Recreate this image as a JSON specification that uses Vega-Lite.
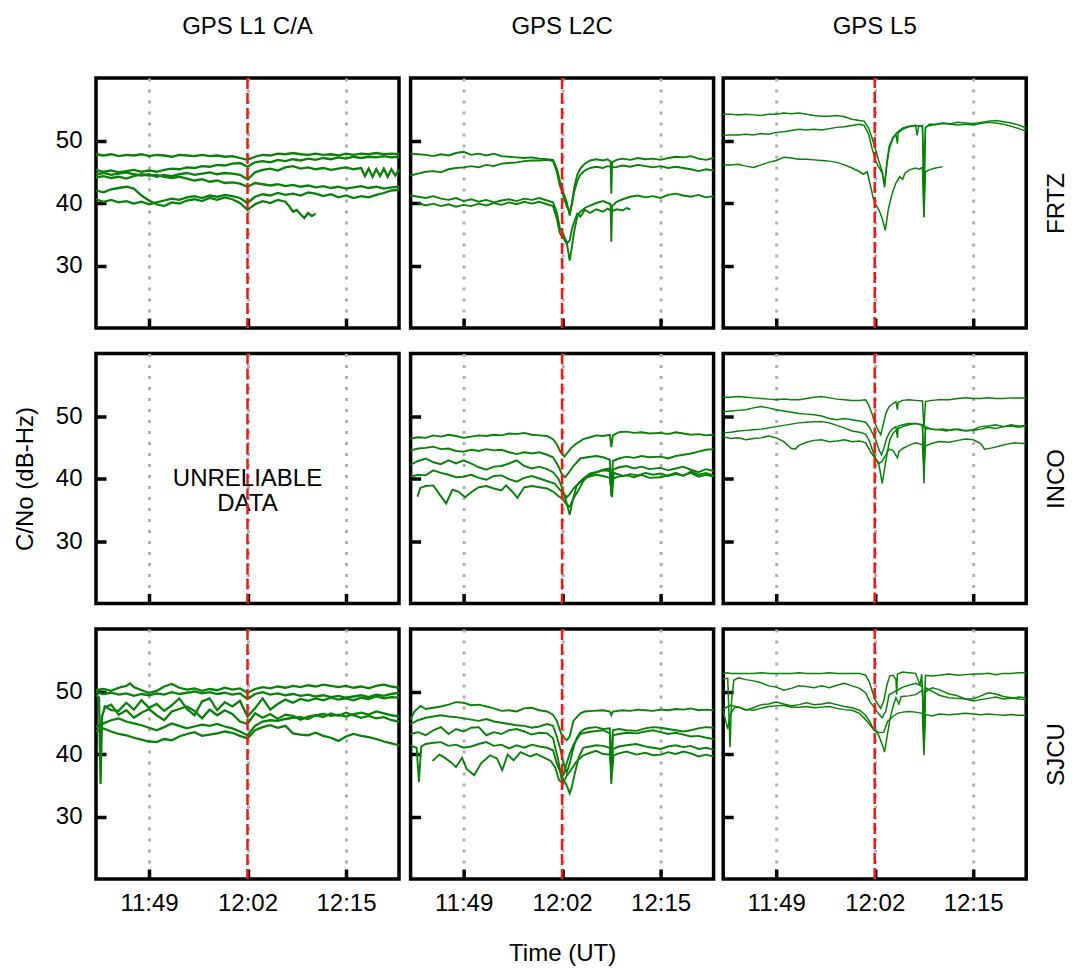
{
"$schema":"https://vega.github.io/schema/vega-lite/v6.json",
"background":"white",
"padding":{"left":12,"top":13,"right":12,"bottom":2},
"config":{
"font":"Liberation Sans",
"view":{"stroke":"#000","strokeWidth":3.5},
"axis":{"labelFontSize":24,"titleFontSize":24,"titleFontWeight":"normal","labelColor":"#000","titleColor":"#000","tickColor":"#000","tickWidth":3.5,"tickSize":-10,"domain":false,"labelPadding":24,"gridColor":"#b0b0b0","gridDash":[3,8],"gridWidth":3,"labelFlush":false,"labelOverlap":false},
"axisX":{"grid":true,"titlePadding":26,"labelPadding":22},
"axisY":{"grid":false,"titlePadding":17.5},
"title":{"fontSize":24,"fontWeight":"normal","color":"#000","offset":38,"baseline":"alphabetic","anchor":"middle","frame":"group"},
"line":{"color":"#078107","strokeWidth":1.8},
"rule":{"color":"#f51414","strokeWidth":2.5,"strokeDash":[11,4]}
},
"columns":3,
"align":"each",
"spacing":{"row":18.5,"column":-1.4},
"datasets":{
"fl1":[
{"sat":1,"t":42,"cn0":47.8},{"sat":1,"t":43,"cn0":47.6},{"sat":1,"t":44,"cn0":47.8},{"sat":1,"t":45,"cn0":47.5},{"sat":1,"t":46,"cn0":47.7},{"sat":1,"t":47,"cn0":47.6},{"sat":1,"t":48,"cn0":47.8},{"sat":1,"t":49,"cn0":47.5},{"sat":1,"t":50,"cn0":47.7},{"sat":1,"t":51,"cn0":47.6},{"sat":1,"t":52,"cn0":47.4},{"sat":1,"t":53,"cn0":47.7},{"sat":1,"t":54,"cn0":47.6},{"sat":1,"t":55,"cn0":47.5},{"sat":1,"t":56,"cn0":47.7},{"sat":1,"t":57,"cn0":47.5},{"sat":1,"t":58,"cn0":47.6},{"sat":1,"t":59,"cn0":47.4},{"sat":1,"t":60,"cn0":47.5},{"sat":1,"t":61,"cn0":47.2},{"sat":1,"t":62,"cn0":46.9},{"sat":1,"t":63,"cn0":47.4},{"sat":1,"t":64,"cn0":47.7},{"sat":1,"t":65,"cn0":47.6},{"sat":1,"t":66,"cn0":47.9},{"sat":1,"t":67,"cn0":47.8},{"sat":1,"t":68,"cn0":48.0},{"sat":1,"t":69,"cn0":47.8},{"sat":1,"t":70,"cn0":47.7},{"sat":1,"t":71,"cn0":47.9},{"sat":1,"t":72,"cn0":47.7},{"sat":1,"t":73,"cn0":47.8},{"sat":1,"t":74,"cn0":47.6},{"sat":1,"t":75,"cn0":47.9},{"sat":1,"t":76,"cn0":47.7},{"sat":1,"t":77,"cn0":47.9},{"sat":1,"t":78,"cn0":47.8},{"sat":1,"t":79,"cn0":48.0},{"sat":1,"t":80,"cn0":47.8},{"sat":1,"t":81,"cn0":47.9},{"sat":1,"t":82,"cn0":47.8},
{"sat":2,"t":42,"cn0":45.3},{"sat":2,"t":43,"cn0":45.0},{"sat":2,"t":44,"cn0":45.2},{"sat":2,"t":45,"cn0":44.9},{"sat":2,"t":46,"cn0":45.1},{"sat":2,"t":47,"cn0":45.3},{"sat":2,"t":48,"cn0":45.0},{"sat":2,"t":49,"cn0":45.2},{"sat":2,"t":50,"cn0":45.0},{"sat":2,"t":51,"cn0":45.3},{"sat":2,"t":52,"cn0":45.5},{"sat":2,"t":53,"cn0":45.4},{"sat":2,"t":54,"cn0":45.7},{"sat":2,"t":55,"cn0":45.6},{"sat":2,"t":56,"cn0":45.9},{"sat":2,"t":57,"cn0":45.8},{"sat":2,"t":58,"cn0":46.1},{"sat":2,"t":59,"cn0":46.0},{"sat":2,"t":60,"cn0":46.3},{"sat":2,"t":61,"cn0":46.4},{"sat":2,"t":62,"cn0":45.8},{"sat":2,"t":63,"cn0":46.5},{"sat":2,"t":64,"cn0":46.7},{"sat":2,"t":65,"cn0":46.5},{"sat":2,"t":66,"cn0":46.9},{"sat":2,"t":67,"cn0":46.7},{"sat":2,"t":68,"cn0":47.0},{"sat":2,"t":69,"cn0":46.8},{"sat":2,"t":70,"cn0":47.1},{"sat":2,"t":71,"cn0":46.9},{"sat":2,"t":72,"cn0":47.2},{"sat":2,"t":73,"cn0":47.0},{"sat":2,"t":74,"cn0":47.3},{"sat":2,"t":75,"cn0":47.1},{"sat":2,"t":76,"cn0":47.4},{"sat":2,"t":77,"cn0":47.2},{"sat":2,"t":78,"cn0":47.4},{"sat":2,"t":79,"cn0":47.3},{"sat":2,"t":80,"cn0":47.5},{"sat":2,"t":81,"cn0":47.3},{"sat":2,"t":82,"cn0":47.4},
{"sat":3,"t":42,"cn0":44.6},{"sat":3,"t":43,"cn0":44.8},{"sat":3,"t":44,"cn0":44.5},{"sat":3,"t":45,"cn0":44.7},{"sat":3,"t":46,"cn0":44.9},{"sat":3,"t":47,"cn0":44.6},{"sat":3,"t":48,"cn0":44.4},{"sat":3,"t":49,"cn0":44.6},{"sat":3,"t":50,"cn0":44.2},{"sat":3,"t":51,"cn0":44.5},{"sat":3,"t":52,"cn0":44.3},{"sat":3,"t":53,"cn0":44.6},{"sat":3,"t":54,"cn0":44.8},{"sat":3,"t":55,"cn0":44.5},{"sat":3,"t":56,"cn0":44.7},{"sat":3,"t":57,"cn0":44.9},{"sat":3,"t":58,"cn0":44.6},{"sat":3,"t":59,"cn0":44.8},{"sat":3,"t":60,"cn0":44.7},{"sat":3,"t":61,"cn0":44.5},{"sat":3,"t":62,"cn0":43.8},{"sat":3,"t":63,"cn0":44.9},{"sat":3,"t":64,"cn0":45.3},{"sat":3,"t":65,"cn0":45.5},{"sat":3,"t":66,"cn0":45.2},{"sat":3,"t":67,"cn0":45.7},{"sat":3,"t":68,"cn0":45.9},{"sat":3,"t":69,"cn0":45.5},{"sat":3,"t":70,"cn0":45.7},{"sat":3,"t":71,"cn0":45.4},{"sat":3,"t":72,"cn0":45.6},{"sat":3,"t":73,"cn0":45.3},{"sat":3,"t":74,"cn0":45.5},{"sat":3,"t":75,"cn0":45.7},{"sat":3,"t":76,"cn0":45.4},{"sat":3,"t":77,"cn0":45.6},{"sat":3,"t":77.5,"cn0":44.3},{"sat":3,"t":78,"cn0":45.5},{"sat":3,"t":78.5,"cn0":44.2},{"sat":3,"t":79,"cn0":45.4},{"sat":3,"t":79.5,"cn0":44.3},{"sat":3,"t":80,"cn0":45.5},{"sat":3,"t":80.5,"cn0":44.2},{"sat":3,"t":81,"cn0":45.4},{"sat":3,"t":81.5,"cn0":44.4},{"sat":3,"t":82,"cn0":45.3},
{"sat":4,"t":42,"cn0":44.1},{"sat":4,"t":43,"cn0":44.3},{"sat":4,"t":44,"cn0":44.0},{"sat":4,"t":45,"cn0":44.2},{"sat":4,"t":46,"cn0":43.9},{"sat":4,"t":47,"cn0":44.3},{"sat":4,"t":48,"cn0":44.6},{"sat":4,"t":49,"cn0":44.4},{"sat":4,"t":50,"cn0":44.5},{"sat":4,"t":51,"cn0":44.2},{"sat":4,"t":52,"cn0":44.0},{"sat":4,"t":53,"cn0":44.2},{"sat":4,"t":54,"cn0":43.9},{"sat":4,"t":55,"cn0":43.6},{"sat":4,"t":56,"cn0":43.8},{"sat":4,"t":57,"cn0":43.4},{"sat":4,"t":58,"cn0":43.6},{"sat":4,"t":59,"cn0":43.2},{"sat":4,"t":60,"cn0":43.3},{"sat":4,"t":61,"cn0":43.1},{"sat":4,"t":62,"cn0":42.6},{"sat":4,"t":63,"cn0":43.2},{"sat":4,"t":64,"cn0":43.0},{"sat":4,"t":65,"cn0":42.8},{"sat":4,"t":66,"cn0":43.0},{"sat":4,"t":67,"cn0":42.7},{"sat":4,"t":68,"cn0":42.9},{"sat":4,"t":69,"cn0":42.6},{"sat":4,"t":70,"cn0":42.8},{"sat":4,"t":71,"cn0":42.5},{"sat":4,"t":72,"cn0":42.7},{"sat":4,"t":73,"cn0":42.4},{"sat":4,"t":74,"cn0":42.6},{"sat":4,"t":75,"cn0":42.3},{"sat":4,"t":76,"cn0":42.5},{"sat":4,"t":77,"cn0":42.7},{"sat":4,"t":78,"cn0":42.4},{"sat":4,"t":79,"cn0":42.6},{"sat":4,"t":80,"cn0":42.3},{"sat":4,"t":81,"cn0":42.5},{"sat":4,"t":82,"cn0":42.6},
{"sat":5,"t":42,"cn0":42.0},{"sat":5,"t":43,"cn0":41.7},{"sat":5,"t":44,"cn0":42.2},{"sat":5,"t":45,"cn0":42.4},{"sat":5,"t":46,"cn0":42.6},{"sat":5,"t":47,"cn0":42.3},{"sat":5,"t":48,"cn0":41.2},{"sat":5,"t":49,"cn0":40.4},{"sat":5,"t":50,"cn0":39.8},{"sat":5,"t":51,"cn0":39.5},{"sat":5,"t":52,"cn0":40.1},{"sat":5,"t":53,"cn0":39.9},{"sat":5,"t":54,"cn0":40.4},{"sat":5,"t":55,"cn0":40.6},{"sat":5,"t":56,"cn0":40.3},{"sat":5,"t":57,"cn0":40.8},{"sat":5,"t":58,"cn0":40.5},{"sat":5,"t":59,"cn0":40.9},{"sat":5,"t":60,"cn0":40.6},{"sat":5,"t":61,"cn0":40.0},{"sat":5,"t":62,"cn0":38.9},{"sat":5,"t":63,"cn0":39.8},{"sat":5,"t":64,"cn0":40.3},{"sat":5,"t":65,"cn0":40.0},{"sat":5,"t":66,"cn0":40.5},{"sat":5,"t":67,"cn0":40.2},{"sat":5,"t":67.5,"cn0":39.5},{"sat":5,"t":68,"cn0":38.6},{"sat":5,"t":68.5,"cn0":38.9},{"sat":5,"t":69,"cn0":38.2},{"sat":5,"t":69.5,"cn0":37.6},{"sat":5,"t":70,"cn0":38.4},{"sat":5,"t":70.5,"cn0":37.9},{"sat":5,"t":71,"cn0":38.3},
{"sat":6,"t":42,"cn0":40.6},{"sat":6,"t":43,"cn0":40.2},{"sat":6,"t":44,"cn0":40.5},{"sat":6,"t":45,"cn0":40.1},{"sat":6,"t":46,"cn0":40.3},{"sat":6,"t":47,"cn0":39.9},{"sat":6,"t":48,"cn0":40.2},{"sat":6,"t":49,"cn0":39.8},{"sat":6,"t":50,"cn0":40.1},{"sat":6,"t":51,"cn0":40.4},{"sat":6,"t":52,"cn0":40.7},{"sat":6,"t":53,"cn0":40.5},{"sat":6,"t":54,"cn0":40.9},{"sat":6,"t":55,"cn0":41.1},{"sat":6,"t":56,"cn0":40.8},{"sat":6,"t":57,"cn0":41.2},{"sat":6,"t":58,"cn0":41.0},{"sat":6,"t":59,"cn0":41.3},{"sat":6,"t":60,"cn0":41.1},{"sat":6,"t":61,"cn0":40.8},{"sat":6,"t":62,"cn0":40.0},{"sat":6,"t":63,"cn0":41.0},{"sat":6,"t":64,"cn0":41.4},{"sat":6,"t":65,"cn0":41.2},{"sat":6,"t":66,"cn0":41.6},{"sat":6,"t":67,"cn0":41.3},{"sat":6,"t":68,"cn0":41.5},{"sat":6,"t":69,"cn0":41.2},{"sat":6,"t":70,"cn0":41.7},{"sat":6,"t":71,"cn0":41.5},{"sat":6,"t":72,"cn0":41.1},{"sat":6,"t":73,"cn0":41.4},{"sat":6,"t":74,"cn0":40.9},{"sat":6,"t":75,"cn0":41.2},{"sat":6,"t":76,"cn0":40.8},{"sat":6,"t":77,"cn0":41.1},{"sat":6,"t":78,"cn0":40.9},{"sat":6,"t":79,"cn0":41.3},{"sat":6,"t":80,"cn0":41.6},{"sat":6,"t":81,"cn0":42.0},{"sat":6,"t":82,"cn0":42.1}
],
"fl2":[
{"sat":1,"t":42,"cn0":47.9},{"sat":1,"t":43,"cn0":47.8},{"sat":1,"t":44,"cn0":47.7},{"sat":1,"t":45,"cn0":47.5},{"sat":1,"t":46,"cn0":47.8},{"sat":1,"t":47,"cn0":47.6},{"sat":1,"t":48,"cn0":48.0},{"sat":1,"t":49,"cn0":48.2},{"sat":1,"t":50,"cn0":47.7},{"sat":1,"t":51,"cn0":47.9},{"sat":1,"t":52,"cn0":47.6},{"sat":1,"t":53,"cn0":47.9},{"sat":1,"t":54,"cn0":47.5},{"sat":1,"t":55,"cn0":47.4},{"sat":1,"t":56,"cn0":47.3},{"sat":1,"t":57,"cn0":47.2},{"sat":1,"t":58,"cn0":47.3},{"sat":1,"t":59,"cn0":47.1},{"sat":1,"t":60,"cn0":47.0},{"sat":1,"t":60.8,"cn0":46.9},{"sat":1,"t":61.3,"cn0":45.5},{"sat":1,"t":61.7,"cn0":43.6},{"sat":1,"t":62.2,"cn0":41.5},{"sat":1,"t":62.6,"cn0":40.2},{"sat":1,"t":63.0,"cn0":38.0},{"sat":1,"t":63.3,"cn0":40.0},{"sat":1,"t":63.6,"cn0":42.5},{"sat":1,"t":64.0,"cn0":44.5},{"sat":1,"t":64.4,"cn0":45.5},{"sat":1,"t":65.0,"cn0":46.3},{"sat":1,"t":65.7,"cn0":46.8},{"sat":1,"t":66.5,"cn0":47.0},{"sat":1,"t":67.4,"cn0":46.8},{"sat":1,"t":68.0,"cn0":47.0},{"sat":1,"t":68.4,"cn0":46.6},{"sat":1,"t":68.5,"cn0":41.5},{"sat":1,"t":68.6,"cn0":46.5},{"sat":1,"t":69.2,"cn0":46.9},{"sat":1,"t":70,"cn0":47.1},{"sat":1,"t":71,"cn0":46.9},{"sat":1,"t":72,"cn0":47.2},{"sat":1,"t":73,"cn0":47.0},{"sat":1,"t":74,"cn0":47.1},{"sat":1,"t":75,"cn0":46.9},{"sat":1,"t":76,"cn0":47.2},{"sat":1,"t":77,"cn0":47.4},{"sat":1,"t":78,"cn0":47.3},{"sat":1,"t":79,"cn0":47.5},{"sat":1,"t":80,"cn0":47.1},{"sat":1,"t":81,"cn0":46.9},{"sat":1,"t":82,"cn0":47.2},
{"sat":2,"t":42,"cn0":44.4},{"sat":2,"t":43,"cn0":44.7},{"sat":2,"t":44,"cn0":45.0},{"sat":2,"t":45,"cn0":45.1},{"sat":2,"t":46,"cn0":44.9},{"sat":2,"t":47,"cn0":45.4},{"sat":2,"t":48,"cn0":45.6},{"sat":2,"t":49,"cn0":45.7},{"sat":2,"t":50,"cn0":45.9},{"sat":2,"t":51,"cn0":45.7},{"sat":2,"t":52,"cn0":46.1},{"sat":2,"t":53,"cn0":45.9},{"sat":2,"t":54,"cn0":46.3},{"sat":2,"t":55,"cn0":46.4},{"sat":2,"t":56,"cn0":46.5},{"sat":2,"t":57,"cn0":46.7},{"sat":2,"t":58,"cn0":46.8},{"sat":2,"t":59,"cn0":46.8},{"sat":2,"t":60,"cn0":46.9},{"sat":2,"t":60.8,"cn0":46.7},{"sat":2,"t":61.3,"cn0":45.0},{"sat":2,"t":61.7,"cn0":42.8},{"sat":2,"t":62.2,"cn0":41.0},{"sat":2,"t":62.6,"cn0":39.5},{"sat":2,"t":63.0,"cn0":38.6},{"sat":2,"t":63.3,"cn0":39.8},{"sat":2,"t":63.6,"cn0":41.8},{"sat":2,"t":64.0,"cn0":43.5},{"sat":2,"t":64.4,"cn0":44.5},{"sat":2,"t":65.0,"cn0":45.2},{"sat":2,"t":65.7,"cn0":45.6},{"sat":2,"t":66.5,"cn0":45.8},{"sat":2,"t":67.4,"cn0":45.6},{"sat":2,"t":68,"cn0":45.9},{"sat":2,"t":69,"cn0":45.7},{"sat":2,"t":70,"cn0":46.0},{"sat":2,"t":71,"cn0":45.8},{"sat":2,"t":72,"cn0":46.1},{"sat":2,"t":73,"cn0":45.9},{"sat":2,"t":74,"cn0":45.7},{"sat":2,"t":75,"cn0":45.9},{"sat":2,"t":76,"cn0":45.6},{"sat":2,"t":77,"cn0":45.8},{"sat":2,"t":78,"cn0":45.6},{"sat":2,"t":79,"cn0":45.4},{"sat":2,"t":80,"cn0":45.1},{"sat":2,"t":81,"cn0":45.4},{"sat":2,"t":82,"cn0":45.2},
{"sat":3,"t":42,"cn0":41.2},{"sat":3,"t":43,"cn0":41.0},{"sat":3,"t":44,"cn0":40.8},{"sat":3,"t":45,"cn0":41.1},{"sat":3,"t":46,"cn0":40.7},{"sat":3,"t":47,"cn0":40.5},{"sat":3,"t":48,"cn0":40.8},{"sat":3,"t":49,"cn0":40.3},{"sat":3,"t":50,"cn0":40.6},{"sat":3,"t":51,"cn0":40.2},{"sat":3,"t":52,"cn0":40.5},{"sat":3,"t":53,"cn0":40.1},{"sat":3,"t":54,"cn0":40.4},{"sat":3,"t":55,"cn0":40.6},{"sat":3,"t":56,"cn0":40.3},{"sat":3,"t":57,"cn0":40.7},{"sat":3,"t":58,"cn0":40.5},{"sat":3,"t":59,"cn0":40.8},{"sat":3,"t":60,"cn0":40.4},{"sat":3,"t":60.8,"cn0":40.1},{"sat":3,"t":61.3,"cn0":38.5},{"sat":3,"t":61.7,"cn0":36.0},{"sat":3,"t":62.2,"cn0":34.8},{"sat":3,"t":62.6,"cn0":33.8},{"sat":3,"t":63.0,"cn0":30.8},{"sat":3,"t":63.3,"cn0":33.0},{"sat":3,"t":63.6,"cn0":35.5},{"sat":3,"t":64.0,"cn0":37.8},{"sat":3,"t":64.4,"cn0":38.6},{"sat":3,"t":65.0,"cn0":39.2},{"sat":3,"t":65.7,"cn0":39.6},{"sat":3,"t":66.5,"cn0":40.0},{"sat":3,"t":67.4,"cn0":40.3},{"sat":3,"t":68.0,"cn0":40.0},{"sat":3,"t":68.4,"cn0":39.8},{"sat":3,"t":68.5,"cn0":33.8},{"sat":3,"t":68.6,"cn0":39.5},{"sat":3,"t":69.2,"cn0":40.2},{"sat":3,"t":70,"cn0":40.6},{"sat":3,"t":71,"cn0":41.0},{"sat":3,"t":72,"cn0":41.2},{"sat":3,"t":73,"cn0":40.9},{"sat":3,"t":74,"cn0":41.1},{"sat":3,"t":75,"cn0":40.8},{"sat":3,"t":76,"cn0":41.3},{"sat":3,"t":77,"cn0":41.5},{"sat":3,"t":78,"cn0":41.2},{"sat":3,"t":79,"cn0":41.0},{"sat":3,"t":80,"cn0":41.3},{"sat":3,"t":81,"cn0":40.9},{"sat":3,"t":82,"cn0":41.1},
{"sat":4,"t":43,"cn0":40.0},{"sat":4,"t":44,"cn0":39.6},{"sat":4,"t":45,"cn0":39.9},{"sat":4,"t":46,"cn0":39.5},{"sat":4,"t":47,"cn0":39.8},{"sat":4,"t":48,"cn0":39.4},{"sat":4,"t":49,"cn0":39.7},{"sat":4,"t":50,"cn0":39.5},{"sat":4,"t":51,"cn0":39.9},{"sat":4,"t":52,"cn0":39.6},{"sat":4,"t":53,"cn0":40.0},{"sat":4,"t":54,"cn0":39.7},{"sat":4,"t":55,"cn0":40.1},{"sat":4,"t":56,"cn0":39.8},{"sat":4,"t":57,"cn0":40.2},{"sat":4,"t":58,"cn0":39.9},{"sat":4,"t":59,"cn0":40.2},{"sat":4,"t":60,"cn0":39.8},{"sat":4,"t":60.8,"cn0":39.5},{"sat":4,"t":61.3,"cn0":37.5},{"sat":4,"t":61.7,"cn0":35.2},{"sat":4,"t":62.2,"cn0":34.3},{"sat":4,"t":62.6,"cn0":33.5},{"sat":4,"t":63.0,"cn0":34.0},{"sat":4,"t":63.3,"cn0":35.8},{"sat":4,"t":63.6,"cn0":37.0},{"sat":4,"t":64.0,"cn0":38.3},{"sat":4,"t":64.4,"cn0":37.8},{"sat":4,"t":65.0,"cn0":38.9},{"sat":4,"t":65.7,"cn0":38.4},{"sat":4,"t":66.5,"cn0":39.0},{"sat":4,"t":67.4,"cn0":38.6},{"sat":4,"t":68.0,"cn0":39.1},{"sat":4,"t":68.6,"cn0":38.7},{"sat":4,"t":69.2,"cn0":39.0},{"sat":4,"t":70.0,"cn0":38.8},{"sat":4,"t":70.5,"cn0":39.2},{"sat":4,"t":71.0,"cn0":39.0}
],
"fl5":[
{"sat":1,"t":42,"cn0":54.2},{"sat":1,"t":43,"cn0":54.2},{"sat":1,"t":44,"cn0":54.1},{"sat":1,"t":45,"cn0":54.2},{"sat":1,"t":46,"cn0":54.1},{"sat":1,"t":47,"cn0":54.0},{"sat":1,"t":48,"cn0":54.2},{"sat":1,"t":49,"cn0":54.2},{"sat":1,"t":50,"cn0":54.4},{"sat":1,"t":51,"cn0":54.3},{"sat":1,"t":52,"cn0":54.4},{"sat":1,"t":53,"cn0":54.2},{"sat":1,"t":54,"cn0":54.0},{"sat":1,"t":55,"cn0":53.9},{"sat":1,"t":56,"cn0":53.9},{"sat":1,"t":57,"cn0":54.0},{"sat":1,"t":58,"cn0":53.8},{"sat":1,"t":59,"cn0":53.4},{"sat":1,"t":60,"cn0":53.2},{"sat":1,"t":60.6,"cn0":53.1},{"sat":1,"t":61.2,"cn0":52.0},{"sat":1,"t":61.7,"cn0":50.2},{"sat":1,"t":62.2,"cn0":48.2},{"sat":1,"t":62.6,"cn0":46.5},{"sat":1,"t":63.0,"cn0":45.0},{"sat":1,"t":63.3,"cn0":42.5},{"sat":1,"t":63.6,"cn0":46.0},{"sat":1,"t":63.9,"cn0":48.5},{"sat":1,"t":64.4,"cn0":50.3},{"sat":1,"t":64.8,"cn0":51.0},{"sat":1,"t":65.0,"cn0":49.5},{"sat":1,"t":65.1,"cn0":51.2},{"sat":1,"t":65.7,"cn0":51.8},{"sat":1,"t":66.5,"cn0":52.2},{"sat":1,"t":67.4,"cn0":52.4},{"sat":1,"t":67.6,"cn0":50.8},{"sat":1,"t":67.8,"cn0":52.3},{"sat":1,"t":68.3,"cn0":52.4},{"sat":1,"t":68.5,"cn0":37.8},{"sat":1,"t":68.7,"cn0":52.0},{"sat":1,"t":69.2,"cn0":52.6},{"sat":1,"t":70,"cn0":52.6},{"sat":1,"t":71,"cn0":52.8},{"sat":1,"t":72,"cn0":52.7},{"sat":1,"t":73,"cn0":52.9},{"sat":1,"t":74,"cn0":52.8},{"sat":1,"t":75,"cn0":52.7},{"sat":1,"t":76,"cn0":52.9},{"sat":1,"t":77,"cn0":53.1},{"sat":1,"t":78,"cn0":53.2},{"sat":1,"t":79,"cn0":53.0},{"sat":1,"t":80,"cn0":52.8},{"sat":1,"t":81,"cn0":52.5},{"sat":1,"t":82,"cn0":52.0},
{"sat":2,"t":42,"cn0":50.8},{"sat":2,"t":43,"cn0":50.9},{"sat":2,"t":44,"cn0":50.9},{"sat":2,"t":45,"cn0":51.0},{"sat":2,"t":46,"cn0":50.9},{"sat":2,"t":47,"cn0":51.1},{"sat":2,"t":48,"cn0":51.0},{"sat":2,"t":49,"cn0":51.3},{"sat":2,"t":50,"cn0":51.4},{"sat":2,"t":51,"cn0":51.6},{"sat":2,"t":52,"cn0":51.8},{"sat":2,"t":53,"cn0":51.7},{"sat":2,"t":54,"cn0":51.8},{"sat":2,"t":55,"cn0":51.7},{"sat":2,"t":56,"cn0":51.9},{"sat":2,"t":57,"cn0":52.1},{"sat":2,"t":58,"cn0":52.2},{"sat":2,"t":59,"cn0":52.4},{"sat":2,"t":60,"cn0":52.6},{"sat":2,"t":60.6,"cn0":52.4},{"sat":2,"t":61.2,"cn0":51.0},{"sat":2,"t":61.7,"cn0":48.5},{"sat":2,"t":62.2,"cn0":46.5},{"sat":2,"t":62.6,"cn0":45.6},{"sat":2,"t":63.0,"cn0":44.8},{"sat":2,"t":63.3,"cn0":43.0},{"sat":2,"t":63.6,"cn0":46.5},{"sat":2,"t":63.9,"cn0":49.0},{"sat":2,"t":64.4,"cn0":50.5},{"sat":2,"t":65.0,"cn0":51.3},{"sat":2,"t":65.7,"cn0":52.0},{"sat":2,"t":66.5,"cn0":52.3},{"sat":2,"t":67.4,"cn0":52.4},{"sat":2,"t":68.3,"cn0":52.3},{"sat":2,"t":68.5,"cn0":45.0},{"sat":2,"t":68.7,"cn0":52.1},{"sat":2,"t":69.2,"cn0":52.4},{"sat":2,"t":70,"cn0":52.5},{"sat":2,"t":71,"cn0":52.7},{"sat":2,"t":72,"cn0":52.6},{"sat":2,"t":73,"cn0":52.5},{"sat":2,"t":74,"cn0":52.6},{"sat":2,"t":75,"cn0":52.5},{"sat":2,"t":76,"cn0":52.7},{"sat":2,"t":77,"cn0":52.9},{"sat":2,"t":78,"cn0":52.8},{"sat":2,"t":79,"cn0":52.6},{"sat":2,"t":80,"cn0":52.3},{"sat":2,"t":81,"cn0":51.9},{"sat":2,"t":82,"cn0":51.5},
{"sat":3,"t":42,"cn0":46.1},{"sat":3,"t":43,"cn0":46.1},{"sat":3,"t":44,"cn0":46.2},{"sat":3,"t":45,"cn0":45.9},{"sat":3,"t":46,"cn0":45.7},{"sat":3,"t":47,"cn0":46.1},{"sat":3,"t":48,"cn0":46.5},{"sat":3,"t":49,"cn0":46.8},{"sat":3,"t":50,"cn0":47.3},{"sat":3,"t":51,"cn0":47.2},{"sat":3,"t":52,"cn0":47.0},{"sat":3,"t":53,"cn0":47.0},{"sat":3,"t":54,"cn0":46.9},{"sat":3,"t":55,"cn0":46.8},{"sat":3,"t":56,"cn0":46.7},{"sat":3,"t":57,"cn0":46.5},{"sat":3,"t":58,"cn0":46.1},{"sat":3,"t":59,"cn0":45.6},{"sat":3,"t":60,"cn0":45.0},{"sat":3,"t":60.5,"cn0":44.6},{"sat":3,"t":61.0,"cn0":45.0},{"sat":3,"t":61.4,"cn0":43.0},{"sat":3,"t":61.8,"cn0":40.8},{"sat":3,"t":62.2,"cn0":39.6},{"sat":3,"t":62.6,"cn0":38.8},{"sat":3,"t":63.0,"cn0":37.5},{"sat":3,"t":63.4,"cn0":35.6},{"sat":3,"t":63.8,"cn0":39.0},{"sat":3,"t":64.3,"cn0":41.5},{"sat":3,"t":64.8,"cn0":43.2},{"sat":3,"t":65.3,"cn0":44.2},{"sat":3,"t":65.7,"cn0":43.8},{"sat":3,"t":66.0,"cn0":44.8},{"sat":3,"t":66.6,"cn0":45.3},{"sat":3,"t":67.4,"cn0":45.6},{"sat":3,"t":67.9,"cn0":45.4},{"sat":3,"t":68.3,"cn0":45.7},{"sat":3,"t":68.5,"cn0":37.7},{"sat":3,"t":68.7,"cn0":45.0},{"sat":3,"t":69.2,"cn0":45.3},{"sat":3,"t":70.0,"cn0":45.6},{"sat":3,"t":70.5,"cn0":45.7},{"sat":3,"t":70.9,"cn0":45.8}
],
"il2":[
{"sat":1,"t":42,"cn0":46.4},{"sat":1,"t":43,"cn0":46.6},{"sat":1,"t":44,"cn0":46.5},{"sat":1,"t":45,"cn0":46.9},{"sat":1,"t":46,"cn0":46.7},{"sat":1,"t":47,"cn0":47.0},{"sat":1,"t":48,"cn0":46.8},{"sat":1,"t":49,"cn0":46.5},{"sat":1,"t":50,"cn0":46.7},{"sat":1,"t":51,"cn0":46.9},{"sat":1,"t":52,"cn0":46.8},{"sat":1,"t":53,"cn0":47.0},{"sat":1,"t":54,"cn0":46.9},{"sat":1,"t":55,"cn0":47.2},{"sat":1,"t":56,"cn0":47.1},{"sat":1,"t":57,"cn0":47.3},{"sat":1,"t":58,"cn0":47.0},{"sat":1,"t":59,"cn0":46.9},{"sat":1,"t":60,"cn0":46.8},{"sat":1,"t":60.8,"cn0":46.3},{"sat":1,"t":61.3,"cn0":45.5},{"sat":1,"t":61.8,"cn0":44.2},{"sat":1,"t":62.3,"cn0":43.5},{"sat":1,"t":62.7,"cn0":44.1},{"sat":1,"t":63.2,"cn0":44.9},{"sat":1,"t":63.9,"cn0":45.6},{"sat":1,"t":64.8,"cn0":46.3},{"sat":1,"t":65.7,"cn0":46.6},{"sat":1,"t":66.5,"cn0":46.9},{"sat":1,"t":67.4,"cn0":46.8},{"sat":1,"t":68.3,"cn0":47.0},{"sat":1,"t":68.5,"cn0":45.0},{"sat":1,"t":68.7,"cn0":46.9},{"sat":1,"t":69.5,"cn0":47.4},{"sat":1,"t":70.5,"cn0":47.5},{"sat":1,"t":71.5,"cn0":47.3},{"sat":1,"t":72.5,"cn0":47.4},{"sat":1,"t":73.5,"cn0":47.2},{"sat":1,"t":75,"cn0":47.3},{"sat":1,"t":76,"cn0":47.1},{"sat":1,"t":77,"cn0":47.4},{"sat":1,"t":78,"cn0":47.2},{"sat":1,"t":79,"cn0":47.0},{"sat":1,"t":80,"cn0":47.1},{"sat":1,"t":81,"cn0":46.9},{"sat":1,"t":82,"cn0":47.0},
{"sat":2,"t":42,"cn0":44.5},{"sat":2,"t":43,"cn0":44.8},{"sat":2,"t":44,"cn0":44.9},{"sat":2,"t":45,"cn0":45.1},{"sat":2,"t":46,"cn0":44.7},{"sat":2,"t":47,"cn0":44.8},{"sat":2,"t":48,"cn0":44.4},{"sat":2,"t":49,"cn0":44.3},{"sat":2,"t":50,"cn0":44.6},{"sat":2,"t":51,"cn0":44.4},{"sat":2,"t":52,"cn0":44.7},{"sat":2,"t":53,"cn0":44.5},{"sat":2,"t":54,"cn0":44.6},{"sat":2,"t":55,"cn0":44.2},{"sat":2,"t":56,"cn0":43.9},{"sat":2,"t":57,"cn0":44.2},{"sat":2,"t":58,"cn0":44.0},{"sat":2,"t":59,"cn0":44.2},{"sat":2,"t":60,"cn0":43.8},{"sat":2,"t":60.8,"cn0":43.4},{"sat":2,"t":61.5,"cn0":42.0},{"sat":2,"t":62.0,"cn0":40.6},{"sat":2,"t":62.4,"cn0":40.2},{"sat":2,"t":62.8,"cn0":40.8},{"sat":2,"t":63.5,"cn0":42.0},{"sat":2,"t":64.4,"cn0":43.2},{"sat":2,"t":65.3,"cn0":43.4},{"sat":2,"t":66.5,"cn0":43.6},{"sat":2,"t":67.4,"cn0":43.4},{"sat":2,"t":68.3,"cn0":43.0},{"sat":2,"t":68.5,"cn0":37.2},{"sat":2,"t":68.7,"cn0":42.8},{"sat":2,"t":69.5,"cn0":43.2},{"sat":2,"t":70.5,"cn0":43.5},{"sat":2,"t":71.5,"cn0":43.3},{"sat":2,"t":72.5,"cn0":43.6},{"sat":2,"t":73.5,"cn0":43.4},{"sat":2,"t":75,"cn0":43.5},{"sat":2,"t":76,"cn0":43.2},{"sat":2,"t":77,"cn0":43.6},{"sat":2,"t":78,"cn0":43.8},{"sat":2,"t":79,"cn0":44.0},{"sat":2,"t":80,"cn0":44.3},{"sat":2,"t":81,"cn0":44.6},{"sat":2,"t":82,"cn0":44.7},
{"sat":3,"t":42,"cn0":42.2},{"sat":3,"t":43,"cn0":42.8},{"sat":3,"t":44,"cn0":43.2},{"sat":3,"t":45,"cn0":42.6},{"sat":3,"t":46,"cn0":42.3},{"sat":3,"t":47,"cn0":42.9},{"sat":3,"t":48,"cn0":42.4},{"sat":3,"t":49,"cn0":42.9},{"sat":3,"t":50,"cn0":42.4},{"sat":3,"t":51,"cn0":41.8},{"sat":3,"t":52,"cn0":41.4},{"sat":3,"t":53,"cn0":41.9},{"sat":3,"t":54,"cn0":42.0},{"sat":3,"t":55,"cn0":42.4},{"sat":3,"t":56,"cn0":42.9},{"sat":3,"t":57,"cn0":42.0},{"sat":3,"t":58,"cn0":41.6},{"sat":3,"t":59,"cn0":41.9},{"sat":3,"t":60,"cn0":41.5},{"sat":3,"t":60.8,"cn0":41.0},{"sat":3,"t":61.5,"cn0":40.0},{"sat":3,"t":62.0,"cn0":38.5},{"sat":3,"t":62.5,"cn0":36.5},{"sat":3,"t":63.0,"cn0":34.2},{"sat":3,"t":63.4,"cn0":36.5},{"sat":3,"t":63.9,"cn0":38.8},{"sat":3,"t":64.8,"cn0":40.0},{"sat":3,"t":65.7,"cn0":40.8},{"sat":3,"t":66.5,"cn0":41.0},{"sat":3,"t":67.4,"cn0":41.3},{"sat":3,"t":68.3,"cn0":41.2},{"sat":3,"t":68.6,"cn0":37.0},{"sat":3,"t":68.8,"cn0":40.9},{"sat":3,"t":70.1,"cn0":40.4},{"sat":3,"t":71,"cn0":40.7},{"sat":3,"t":72,"cn0":40.5},{"sat":3,"t":73,"cn0":40.9},{"sat":3,"t":74,"cn0":40.6},{"sat":3,"t":75,"cn0":40.8},{"sat":3,"t":76,"cn0":40.4},{"sat":3,"t":77,"cn0":40.7},{"sat":3,"t":78,"cn0":40.5},{"sat":3,"t":79,"cn0":40.9},{"sat":3,"t":80,"cn0":40.3},{"sat":3,"t":81,"cn0":40.6},{"sat":3,"t":82,"cn0":40.3},
{"sat":4,"t":42,"cn0":40.3},{"sat":4,"t":43,"cn0":40.6},{"sat":4,"t":44,"cn0":40.5},{"sat":4,"t":45,"cn0":41.3},{"sat":4,"t":46,"cn0":40.9},{"sat":4,"t":47,"cn0":40.6},{"sat":4,"t":48,"cn0":40.2},{"sat":4,"t":49,"cn0":40.3},{"sat":4,"t":50,"cn0":40.6},{"sat":4,"t":51,"cn0":40.1},{"sat":4,"t":52,"cn0":39.8},{"sat":4,"t":53,"cn0":40.4},{"sat":4,"t":54,"cn0":40.5},{"sat":4,"t":55,"cn0":39.9},{"sat":4,"t":56,"cn0":39.5},{"sat":4,"t":57,"cn0":40.1},{"sat":4,"t":58,"cn0":40.4},{"sat":4,"t":59,"cn0":40.0},{"sat":4,"t":60,"cn0":39.6},{"sat":4,"t":61,"cn0":39.2},{"sat":4,"t":61.7,"cn0":38.2},{"sat":4,"t":62.2,"cn0":37.6},{"sat":4,"t":62.6,"cn0":37.0},{"sat":4,"t":63.0,"cn0":37.5},{"sat":4,"t":63.5,"cn0":38.4},{"sat":4,"t":64.4,"cn0":39.5},{"sat":4,"t":65.3,"cn0":40.2},{"sat":4,"t":66.5,"cn0":40.6},{"sat":4,"t":67.4,"cn0":40.4},{"sat":4,"t":68.3,"cn0":40.1},{"sat":4,"t":68.5,"cn0":38.0},{"sat":4,"t":68.7,"cn0":40.0},{"sat":4,"t":69.5,"cn0":40.3},{"sat":4,"t":70.5,"cn0":40.5},{"sat":4,"t":71.5,"cn0":40.2},{"sat":4,"t":72.5,"cn0":40.6},{"sat":4,"t":73.5,"cn0":40.1},{"sat":4,"t":75,"cn0":40.2},{"sat":4,"t":76,"cn0":40.5},{"sat":4,"t":77,"cn0":40.9},{"sat":4,"t":78,"cn0":40.4},{"sat":4,"t":79,"cn0":41.1},{"sat":4,"t":80,"cn0":40.6},{"sat":4,"t":81,"cn0":40.9},{"sat":4,"t":82,"cn0":40.5},
{"sat":5,"t":42.9,"cn0":37.1},{"sat":5,"t":43.3,"cn0":38.5},{"sat":5,"t":44,"cn0":38.8},{"sat":5,"t":45,"cn0":38.9},{"sat":5,"t":45.8,"cn0":37.5},{"sat":5,"t":46.7,"cn0":36.0},{"sat":5,"t":47.5,"cn0":38.2},{"sat":5,"t":48.3,"cn0":37.9},{"sat":5,"t":49.2,"cn0":37.0},{"sat":5,"t":50,"cn0":37.8},{"sat":5,"t":51,"cn0":38.6},{"sat":5,"t":52,"cn0":38.8},{"sat":5,"t":53,"cn0":38.4},{"sat":5,"t":54,"cn0":38.1},{"sat":5,"t":54.6,"cn0":38.9},{"sat":5,"t":55.5,"cn0":37.8},{"sat":5,"t":56.1,"cn0":36.9},{"sat":5,"t":57,"cn0":38.6},{"sat":5,"t":58,"cn0":38.8},{"sat":5,"t":59,"cn0":38.6},{"sat":5,"t":60,"cn0":38.4},{"sat":5,"t":60.8,"cn0":37.9},{"sat":5,"t":61.5,"cn0":37.2},{"sat":5,"t":62,"cn0":36.8},{"sat":5,"t":62.5,"cn0":36.0},{"sat":5,"t":63,"cn0":35.5},{"sat":5,"t":63.5,"cn0":36.8},{"sat":5,"t":64.2,"cn0":38.2},{"sat":5,"t":64.8,"cn0":39.6},{"sat":5,"t":65.5,"cn0":40.5},{"sat":5,"t":66.5,"cn0":41.0},{"sat":5,"t":67.4,"cn0":41.4},{"sat":5,"t":68.3,"cn0":41.6},{"sat":5,"t":68.5,"cn0":37.5},{"sat":5,"t":68.7,"cn0":41.4},{"sat":5,"t":69.5,"cn0":41.8},{"sat":5,"t":70.5,"cn0":42.0},{"sat":5,"t":71.5,"cn0":41.6},{"sat":5,"t":72.5,"cn0":41.9},{"sat":5,"t":73.5,"cn0":41.5},{"sat":5,"t":75,"cn0":41.7},{"sat":5,"t":76,"cn0":41.3},{"sat":5,"t":77,"cn0":41.6},{"sat":5,"t":78,"cn0":41.9},{"sat":5,"t":79,"cn0":41.4},{"sat":5,"t":80,"cn0":41.0},{"sat":5,"t":81,"cn0":41.5},{"sat":5,"t":82,"cn0":41.2}
],
"il5":[
{"sat":1,"t":42,"cn0":53.0},{"sat":1,"t":43,"cn0":53.0},{"sat":1,"t":44,"cn0":53.1},{"sat":1,"t":45,"cn0":53.0},{"sat":1,"t":46,"cn0":52.9},{"sat":1,"t":47,"cn0":52.8},{"sat":1,"t":48,"cn0":52.7},{"sat":1,"t":49,"cn0":52.6},{"sat":1,"t":50,"cn0":52.7},{"sat":1,"t":51,"cn0":52.6},{"sat":1,"t":52,"cn0":52.6},{"sat":1,"t":53,"cn0":52.8},{"sat":1,"t":54,"cn0":53.0},{"sat":1,"t":55,"cn0":53.1},{"sat":1,"t":56,"cn0":52.9},{"sat":1,"t":57,"cn0":52.7},{"sat":1,"t":58,"cn0":52.6},{"sat":1,"t":59,"cn0":52.5},{"sat":1,"t":60,"cn0":52.5},{"sat":1,"t":60.8,"cn0":52.6},{"sat":1,"t":61.2,"cn0":51.8},{"sat":1,"t":61.6,"cn0":50.5},{"sat":1,"t":62.0,"cn0":49.0},{"sat":1,"t":62.4,"cn0":47.8},{"sat":1,"t":62.8,"cn0":47.0},{"sat":1,"t":63.1,"cn0":48.5},{"sat":1,"t":63.5,"cn0":50.5},{"sat":1,"t":63.9,"cn0":51.5},{"sat":1,"t":64.4,"cn0":52.0},{"sat":1,"t":64.8,"cn0":52.3},{"sat":1,"t":65.0,"cn0":51.0},{"sat":1,"t":65.1,"cn0":52.2},{"sat":1,"t":65.7,"cn0":52.5},{"sat":1,"t":66.5,"cn0":52.6},{"sat":1,"t":67.4,"cn0":52.5},{"sat":1,"t":68.3,"cn0":52.4},{"sat":1,"t":68.5,"cn0":48.0},{"sat":1,"t":68.7,"cn0":52.3},{"sat":1,"t":69.5,"cn0":52.5},{"sat":1,"t":70.5,"cn0":52.6},{"sat":1,"t":71.8,"cn0":52.6},{"sat":1,"t":73,"cn0":52.8},{"sat":1,"t":74,"cn0":52.9},{"sat":1,"t":75,"cn0":52.8},{"sat":1,"t":76,"cn0":52.8},{"sat":1,"t":77,"cn0":52.9},{"sat":1,"t":78,"cn0":52.8},{"sat":1,"t":79,"cn0":52.8},{"sat":1,"t":80,"cn0":52.9},{"sat":1,"t":81,"cn0":52.9},{"sat":1,"t":82,"cn0":52.9},
{"sat":2,"t":42,"cn0":50.7},{"sat":2,"t":43,"cn0":50.8},{"sat":2,"t":44,"cn0":50.9},{"sat":2,"t":45,"cn0":51.0},{"sat":2,"t":46,"cn0":51.3},{"sat":2,"t":47,"cn0":51.5},{"sat":2,"t":48,"cn0":51.3},{"sat":2,"t":49,"cn0":51.0},{"sat":2,"t":50,"cn0":50.8},{"sat":2,"t":51,"cn0":50.6},{"sat":2,"t":52,"cn0":50.4},{"sat":2,"t":53,"cn0":50.3},{"sat":2,"t":54,"cn0":50.2},{"sat":2,"t":55,"cn0":50.0},{"sat":2,"t":56,"cn0":49.6},{"sat":2,"t":57,"cn0":49.4},{"sat":2,"t":58,"cn0":49.6},{"sat":2,"t":59,"cn0":49.4},{"sat":2,"t":60,"cn0":49.2},{"sat":2,"t":60.8,"cn0":49.0},{"sat":2,"t":61.3,"cn0":48.2},{"sat":2,"t":61.8,"cn0":47.0},{"sat":2,"t":62.2,"cn0":46.0},{"sat":2,"t":62.6,"cn0":44.5},{"sat":2,"t":62.9,"cn0":43.8},{"sat":2,"t":63.2,"cn0":44.8},{"sat":2,"t":63.6,"cn0":46.5},{"sat":2,"t":64.0,"cn0":47.5},{"sat":2,"t":64.4,"cn0":48.0},{"sat":2,"t":64.8,"cn0":48.3},{"sat":2,"t":65.0,"cn0":46.5},{"sat":2,"t":65.1,"cn0":48.4},{"sat":2,"t":65.7,"cn0":48.6},{"sat":2,"t":66.5,"cn0":48.8},{"sat":2,"t":67.4,"cn0":48.8},{"sat":2,"t":68.3,"cn0":48.6},{"sat":2,"t":68.5,"cn0":41.5},{"sat":2,"t":68.7,"cn0":48.3},{"sat":2,"t":69.5,"cn0":47.9},{"sat":2,"t":70.1,"cn0":47.8},{"sat":2,"t":71,"cn0":47.9},{"sat":2,"t":72,"cn0":47.7},{"sat":2,"t":73,"cn0":47.9},{"sat":2,"t":74,"cn0":47.6},{"sat":2,"t":75,"cn0":47.8},{"sat":2,"t":76,"cn0":48.3},{"sat":2,"t":77,"cn0":48.4},{"sat":2,"t":78,"cn0":48.6},{"sat":2,"t":79,"cn0":48.3},{"sat":2,"t":80,"cn0":48.6},{"sat":2,"t":81,"cn0":48.4},{"sat":2,"t":82,"cn0":48.5},
{"sat":3,"t":42,"cn0":47.3},{"sat":3,"t":43,"cn0":47.4},{"sat":3,"t":44,"cn0":47.6},{"sat":3,"t":45,"cn0":47.7},{"sat":3,"t":46,"cn0":47.8},{"sat":3,"t":47,"cn0":47.9},{"sat":3,"t":48,"cn0":48.1},{"sat":3,"t":49,"cn0":48.3},{"sat":3,"t":50,"cn0":48.5},{"sat":3,"t":51,"cn0":48.7},{"sat":3,"t":52,"cn0":48.9},{"sat":3,"t":53,"cn0":49.0},{"sat":3,"t":54,"cn0":49.1},{"sat":3,"t":55,"cn0":49.1},{"sat":3,"t":56,"cn0":48.9},{"sat":3,"t":57,"cn0":48.5},{"sat":3,"t":58,"cn0":48.1},{"sat":3,"t":59,"cn0":47.6},{"sat":3,"t":60,"cn0":47.4},{"sat":3,"t":60.8,"cn0":47.1},{"sat":3,"t":61.3,"cn0":46.0},{"sat":3,"t":61.8,"cn0":44.2},{"sat":3,"t":62.2,"cn0":43.0},{"sat":3,"t":62.6,"cn0":42.0},{"sat":3,"t":63.0,"cn0":39.2},{"sat":3,"t":63.3,"cn0":41.5},{"sat":3,"t":63.7,"cn0":44.5},{"sat":3,"t":64.0,"cn0":46.2},{"sat":3,"t":64.4,"cn0":47.2},{"sat":3,"t":65.0,"cn0":47.9},{"sat":3,"t":65.7,"cn0":48.3},{"sat":3,"t":66.5,"cn0":48.6},{"sat":3,"t":67.4,"cn0":48.8},{"sat":3,"t":68.3,"cn0":48.5},{"sat":3,"t":68.5,"cn0":39.2},{"sat":3,"t":68.7,"cn0":48.0},{"sat":3,"t":69.5,"cn0":47.9},{"sat":3,"t":70.5,"cn0":47.8},{"sat":3,"t":71.5,"cn0":47.6},{"sat":3,"t":72.5,"cn0":47.9},{"sat":3,"t":73.5,"cn0":47.7},{"sat":3,"t":75,"cn0":47.7},{"sat":3,"t":76,"cn0":47.9},{"sat":3,"t":77,"cn0":48.2},{"sat":3,"t":78,"cn0":48.0},{"sat":3,"t":79,"cn0":48.3},{"sat":3,"t":80,"cn0":48.4},{"sat":3,"t":81,"cn0":48.2},{"sat":3,"t":82,"cn0":48.4},
{"sat":4,"t":42,"cn0":46.7},{"sat":4,"t":43,"cn0":46.4},{"sat":4,"t":44,"cn0":46.5},{"sat":4,"t":45,"cn0":46.2},{"sat":4,"t":46,"cn0":46.4},{"sat":4,"t":47,"cn0":46.5},{"sat":4,"t":48,"cn0":46.8},{"sat":4,"t":49,"cn0":46.5},{"sat":4,"t":50,"cn0":45.9},{"sat":4,"t":51,"cn0":44.8},{"sat":4,"t":51.5,"cn0":44.7},{"sat":4,"t":52,"cn0":45.3},{"sat":4,"t":53,"cn0":45.8},{"sat":4,"t":54,"cn0":46.1},{"sat":4,"t":55,"cn0":46.2},{"sat":4,"t":56,"cn0":45.9},{"sat":4,"t":57,"cn0":46.0},{"sat":4,"t":58,"cn0":46.2},{"sat":4,"t":59,"cn0":45.9},{"sat":4,"t":60,"cn0":46.0},{"sat":4,"t":60.8,"cn0":45.7},{"sat":4,"t":61.5,"cn0":44.2},{"sat":4,"t":62.2,"cn0":43.0},{"sat":4,"t":62.6,"cn0":42.4},{"sat":4,"t":63.0,"cn0":42.8},{"sat":4,"t":63.5,"cn0":43.8},{"sat":4,"t":63.9,"cn0":44.7},{"sat":4,"t":64.4,"cn0":44.5},{"sat":4,"t":65.0,"cn0":43.3},{"sat":4,"t":65.2,"cn0":44.3},{"sat":4,"t":65.7,"cn0":44.8},{"sat":4,"t":66.5,"cn0":45.3},{"sat":4,"t":67.4,"cn0":45.7},{"sat":4,"t":68.3,"cn0":45.4},{"sat":4,"t":68.5,"cn0":42.0},{"sat":4,"t":68.7,"cn0":45.2},{"sat":4,"t":69.5,"cn0":45.6},{"sat":4,"t":70.5,"cn0":45.9},{"sat":4,"t":71.8,"cn0":45.8},{"sat":4,"t":73,"cn0":46.1},{"sat":4,"t":74,"cn0":46.3},{"sat":4,"t":75,"cn0":46.2},{"sat":4,"t":76,"cn0":45.6},{"sat":4,"t":76.5,"cn0":44.7},{"sat":4,"t":77.5,"cn0":44.9},{"sat":4,"t":78.5,"cn0":45.2},{"sat":4,"t":79.5,"cn0":45.5},{"sat":4,"t":80.5,"cn0":45.7},{"sat":4,"t":81.5,"cn0":45.6},{"sat":4,"t":82,"cn0":45.7}
],
"sl1":[
{"sat":1,"t":42,"cn0":50.2},{"sat":1,"t":43,"cn0":50.4},{"sat":1,"t":44,"cn0":50.1},{"sat":1,"t":45,"cn0":50.6},{"sat":1,"t":46,"cn0":50.9},{"sat":1,"t":46.5,"cn0":51.3},{"sat":1,"t":47,"cn0":50.7},{"sat":1,"t":48,"cn0":50.2},{"sat":1,"t":49,"cn0":49.8},{"sat":1,"t":50,"cn0":50.1},{"sat":1,"t":51,"cn0":50.8},{"sat":1,"t":52,"cn0":51.2},{"sat":1,"t":52.5,"cn0":50.9},{"sat":1,"t":53,"cn0":50.6},{"sat":1,"t":54,"cn0":50.3},{"sat":1,"t":55,"cn0":50.5},{"sat":1,"t":56,"cn0":50.1},{"sat":1,"t":57,"cn0":50.4},{"sat":1,"t":58,"cn0":50.2},{"sat":1,"t":59,"cn0":50.6},{"sat":1,"t":60,"cn0":50.3},{"sat":1,"t":61,"cn0":50.5},{"sat":1,"t":62,"cn0":49.8},{"sat":1,"t":63,"cn0":50.4},{"sat":1,"t":64,"cn0":50.7},{"sat":1,"t":65,"cn0":50.5},{"sat":1,"t":66,"cn0":50.8},{"sat":1,"t":67,"cn0":50.6},{"sat":1,"t":68,"cn0":50.9},{"sat":1,"t":69,"cn0":50.7},{"sat":1,"t":70,"cn0":51.0},{"sat":1,"t":71,"cn0":50.8},{"sat":1,"t":72,"cn0":51.1},{"sat":1,"t":73,"cn0":50.9},{"sat":1,"t":74,"cn0":50.7},{"sat":1,"t":75,"cn0":50.9},{"sat":1,"t":76,"cn0":50.6},{"sat":1,"t":77,"cn0":50.8},{"sat":1,"t":78,"cn0":50.5},{"sat":1,"t":79,"cn0":50.9},{"sat":1,"t":80,"cn0":51.1},{"sat":1,"t":81,"cn0":50.8},{"sat":1,"t":82,"cn0":50.6},
{"sat":2,"t":42,"cn0":49.9},{"sat":2,"t":43,"cn0":49.6},{"sat":2,"t":44,"cn0":49.8},{"sat":2,"t":45,"cn0":49.5},{"sat":2,"t":46,"cn0":49.7},{"sat":2,"t":47,"cn0":49.3},{"sat":2,"t":48,"cn0":49.6},{"sat":2,"t":49,"cn0":49.4},{"sat":2,"t":50,"cn0":49.7},{"sat":2,"t":51,"cn0":49.5},{"sat":2,"t":52,"cn0":49.9},{"sat":2,"t":53,"cn0":49.6},{"sat":2,"t":54,"cn0":49.8},{"sat":2,"t":55,"cn0":50.0},{"sat":2,"t":56,"cn0":49.7},{"sat":2,"t":57,"cn0":49.9},{"sat":2,"t":58,"cn0":49.6},{"sat":2,"t":59,"cn0":49.8},{"sat":2,"t":60,"cn0":49.5},{"sat":2,"t":61,"cn0":49.7},{"sat":2,"t":62,"cn0":48.8},{"sat":2,"t":63,"cn0":49.6},{"sat":2,"t":64,"cn0":49.9},{"sat":2,"t":65,"cn0":49.5},{"sat":2,"t":66,"cn0":49.7},{"sat":2,"t":67,"cn0":49.4},{"sat":2,"t":68,"cn0":49.6},{"sat":2,"t":69,"cn0":49.3},{"sat":2,"t":70,"cn0":49.5},{"sat":2,"t":71,"cn0":49.2},{"sat":2,"t":72,"cn0":49.4},{"sat":2,"t":73,"cn0":49.1},{"sat":2,"t":74,"cn0":49.3},{"sat":2,"t":75,"cn0":49.0},{"sat":2,"t":76,"cn0":49.2},{"sat":2,"t":77,"cn0":49.4},{"sat":2,"t":78,"cn0":49.1},{"sat":2,"t":79,"cn0":49.5},{"sat":2,"t":80,"cn0":49.3},{"sat":2,"t":81,"cn0":49.6},{"sat":2,"t":82,"cn0":49.8},
{"sat":3,"t":42,"cn0":49.5},{"sat":3,"t":42.4,"cn0":49.0},{"sat":3,"t":42.6,"cn0":35.2},{"sat":3,"t":42.8,"cn0":46.0},{"sat":3,"t":43.2,"cn0":47.6},{"sat":3,"t":44,"cn0":47.0},{"sat":3,"t":45,"cn0":46.9},{"sat":3,"t":46,"cn0":48.2},{"sat":3,"t":47,"cn0":47.1},{"sat":3,"t":48,"cn0":48.6},{"sat":3,"t":49,"cn0":47.4},{"sat":3,"t":50,"cn0":48.0},{"sat":3,"t":51,"cn0":46.9},{"sat":3,"t":52,"cn0":47.8},{"sat":3,"t":53,"cn0":48.9},{"sat":3,"t":54,"cn0":47.2},{"sat":3,"t":55,"cn0":46.2},{"sat":3,"t":56,"cn0":48.4},{"sat":3,"t":57,"cn0":48.9},{"sat":3,"t":58,"cn0":47.0},{"sat":3,"t":59,"cn0":48.3},{"sat":3,"t":60,"cn0":47.6},{"sat":3,"t":61,"cn0":48.5},{"sat":3,"t":62,"cn0":46.0},{"sat":3,"t":63,"cn0":47.3},{"sat":3,"t":64,"cn0":48.9},{"sat":3,"t":65,"cn0":47.1},{"sat":3,"t":66,"cn0":48.0},{"sat":3,"t":67,"cn0":48.7},{"sat":3,"t":68,"cn0":48.2},{"sat":3,"t":69,"cn0":48.8},{"sat":3,"t":70,"cn0":48.5},{"sat":3,"t":71,"cn0":48.9},{"sat":3,"t":72,"cn0":48.6},{"sat":3,"t":73,"cn0":49.0},{"sat":3,"t":74,"cn0":48.7},{"sat":3,"t":75,"cn0":48.9},{"sat":3,"t":76,"cn0":48.6},{"sat":3,"t":77,"cn0":49.0},{"sat":3,"t":78,"cn0":48.8},{"sat":3,"t":79,"cn0":49.2},{"sat":3,"t":80,"cn0":48.9},{"sat":3,"t":81,"cn0":49.1},{"sat":3,"t":82,"cn0":49.0},
{"sat":4,"t":43,"cn0":47.4},{"sat":4,"t":44,"cn0":47.9},{"sat":4,"t":45,"cn0":46.3},{"sat":4,"t":46,"cn0":47.0},{"sat":4,"t":47,"cn0":45.8},{"sat":4,"t":48,"cn0":46.6},{"sat":4,"t":49,"cn0":47.2},{"sat":4,"t":50,"cn0":46.2},{"sat":4,"t":51,"cn0":45.4},{"sat":4,"t":52,"cn0":46.8},{"sat":4,"t":53,"cn0":47.2},{"sat":4,"t":54,"cn0":47.6},{"sat":4,"t":55,"cn0":46.9},{"sat":4,"t":56,"cn0":45.7},{"sat":4,"t":57,"cn0":47.1},{"sat":4,"t":58,"cn0":46.2},{"sat":4,"t":59,"cn0":47.0},{"sat":4,"t":60,"cn0":46.4},{"sat":4,"t":61,"cn0":45.2},{"sat":4,"t":62,"cn0":44.8},{"sat":4,"t":63,"cn0":46.5},{"sat":4,"t":64,"cn0":45.8},{"sat":4,"t":65,"cn0":46.4},{"sat":4,"t":66,"cn0":45.6},{"sat":4,"t":67,"cn0":46.3},{"sat":4,"t":68,"cn0":46.1},{"sat":4,"t":69,"cn0":45.5},{"sat":4,"t":70,"cn0":46.0},{"sat":4,"t":71,"cn0":46.2},{"sat":4,"t":72,"cn0":45.9},{"sat":4,"t":73,"cn0":46.5},{"sat":4,"t":74,"cn0":46.1},{"sat":4,"t":75,"cn0":46.6},{"sat":4,"t":76,"cn0":46.2},{"sat":4,"t":77,"cn0":45.8},{"sat":4,"t":78,"cn0":46.1},{"sat":4,"t":79,"cn0":45.7},{"sat":4,"t":80,"cn0":45.9},{"sat":4,"t":81,"cn0":45.4},{"sat":4,"t":82,"cn0":45.2},
{"sat":5,"t":42,"cn0":44.3},{"sat":5,"t":43,"cn0":44.9},{"sat":5,"t":44,"cn0":45.4},{"sat":5,"t":45,"cn0":45.7},{"sat":5,"t":46,"cn0":45.2},{"sat":5,"t":47,"cn0":44.9},{"sat":5,"t":48,"cn0":44.6},{"sat":5,"t":49,"cn0":44.2},{"sat":5,"t":50,"cn0":43.8},{"sat":5,"t":51,"cn0":44.3},{"sat":5,"t":52,"cn0":44.9},{"sat":5,"t":53,"cn0":44.5},{"sat":5,"t":54,"cn0":44.1},{"sat":5,"t":55,"cn0":44.4},{"sat":5,"t":56,"cn0":44.7},{"sat":5,"t":57,"cn0":44.5},{"sat":5,"t":58,"cn0":44.8},{"sat":5,"t":59,"cn0":44.4},{"sat":5,"t":60,"cn0":44.1},{"sat":5,"t":61,"cn0":43.6},{"sat":5,"t":62,"cn0":43.0},{"sat":5,"t":63,"cn0":44.5},{"sat":5,"t":64,"cn0":45.2},{"sat":5,"t":65,"cn0":45.4},{"sat":5,"t":66,"cn0":45.3},{"sat":5,"t":67,"cn0":45.6},{"sat":5,"t":68,"cn0":45.8},{"sat":5,"t":69,"cn0":45.9},{"sat":5,"t":70,"cn0":45.6},{"sat":5,"t":71,"cn0":46.2},{"sat":5,"t":72,"cn0":46.4},{"sat":5,"t":73,"cn0":46.1},{"sat":5,"t":74,"cn0":46.3},{"sat":5,"t":75,"cn0":46.0},{"sat":5,"t":76,"cn0":46.4},{"sat":5,"t":77,"cn0":46.6},{"sat":5,"t":78,"cn0":46.3},{"sat":5,"t":79,"cn0":46.8},{"sat":5,"t":80,"cn0":46.5},{"sat":5,"t":81,"cn0":46.2},{"sat":5,"t":82,"cn0":46.0},
{"sat":6,"t":42,"cn0":43.7},{"sat":6,"t":43,"cn0":44.1},{"sat":6,"t":44,"cn0":43.6},{"sat":6,"t":45,"cn0":43.2},{"sat":6,"t":46,"cn0":43.0},{"sat":6,"t":47,"cn0":42.6},{"sat":6,"t":48,"cn0":42.3},{"sat":6,"t":49,"cn0":42.0},{"sat":6,"t":50,"cn0":41.9},{"sat":6,"t":51,"cn0":42.4},{"sat":6,"t":52,"cn0":42.2},{"sat":6,"t":53,"cn0":42.8},{"sat":6,"t":54,"cn0":43.2},{"sat":6,"t":55,"cn0":43.5},{"sat":6,"t":56,"cn0":42.9},{"sat":6,"t":57,"cn0":43.1},{"sat":6,"t":58,"cn0":43.3},{"sat":6,"t":59,"cn0":43.6},{"sat":6,"t":60,"cn0":43.4},{"sat":6,"t":61,"cn0":42.9},{"sat":6,"t":62,"cn0":42.5},{"sat":6,"t":63,"cn0":43.8},{"sat":6,"t":64,"cn0":44.3},{"sat":6,"t":65,"cn0":44.6},{"sat":6,"t":66,"cn0":44.2},{"sat":6,"t":67,"cn0":44.5},{"sat":6,"t":68,"cn0":43.3},{"sat":6,"t":69,"cn0":43.1},{"sat":6,"t":70,"cn0":43.0},{"sat":6,"t":71,"cn0":43.4},{"sat":6,"t":72,"cn0":42.9},{"sat":6,"t":73,"cn0":42.6},{"sat":6,"t":74,"cn0":42.1},{"sat":6,"t":75,"cn0":42.8},{"sat":6,"t":76,"cn0":43.2},{"sat":6,"t":77,"cn0":42.9},{"sat":6,"t":78,"cn0":42.7},{"sat":6,"t":79,"cn0":42.4},{"sat":6,"t":80,"cn0":42.0},{"sat":6,"t":81,"cn0":41.7},{"sat":6,"t":82,"cn0":41.4}
],
"sl2":[
{"sat":1,"t":42,"cn0":45.5},{"sat":1,"t":42.5,"cn0":46.8},{"sat":1,"t":43.3,"cn0":47.7},{"sat":1,"t":44,"cn0":47.2},{"sat":1,"t":45,"cn0":47.4},{"sat":1,"t":46,"cn0":47.6},{"sat":1,"t":47,"cn0":47.9},{"sat":1,"t":48,"cn0":48.3},{"sat":1,"t":49,"cn0":48.2},{"sat":1,"t":50,"cn0":47.8},{"sat":1,"t":51,"cn0":47.9},{"sat":1,"t":52,"cn0":47.6},{"sat":1,"t":53,"cn0":47.3},{"sat":1,"t":54,"cn0":46.9},{"sat":1,"t":55,"cn0":47.0},{"sat":1,"t":56,"cn0":46.8},{"sat":1,"t":57,"cn0":47.3},{"sat":1,"t":58,"cn0":47.4},{"sat":1,"t":59,"cn0":47.0},{"sat":1,"t":60,"cn0":46.8},{"sat":1,"t":60.8,"cn0":46.3},{"sat":1,"t":61.3,"cn0":45.3},{"sat":1,"t":61.9,"cn0":43.2},{"sat":1,"t":62.6,"cn0":42.2},{"sat":1,"t":63.0,"cn0":42.8},{"sat":1,"t":63.5,"cn0":45.3},{"sat":1,"t":64.4,"cn0":46.5},{"sat":1,"t":65.0,"cn0":46.8},{"sat":1,"t":66,"cn0":46.9},{"sat":1,"t":67.4,"cn0":47.0},{"sat":1,"t":68.3,"cn0":46.8},{"sat":1,"t":68.5,"cn0":46.2},{"sat":1,"t":68.7,"cn0":46.8},{"sat":1,"t":70,"cn0":47.0},{"sat":1,"t":71,"cn0":46.9},{"sat":1,"t":72,"cn0":47.1},{"sat":1,"t":73,"cn0":47.0},{"sat":1,"t":74,"cn0":46.9},{"sat":1,"t":75,"cn0":47.1},{"sat":1,"t":76,"cn0":47.0},{"sat":1,"t":77,"cn0":47.2},{"sat":1,"t":78,"cn0":47.1},{"sat":1,"t":79,"cn0":47.3},{"sat":1,"t":80,"cn0":47.0},{"sat":1,"t":81,"cn0":47.1},{"sat":1,"t":82,"cn0":47.0},
{"sat":2,"t":42,"cn0":44.8},{"sat":2,"t":43,"cn0":45.4},{"sat":2,"t":44,"cn0":45.8},{"sat":2,"t":45,"cn0":46.0},{"sat":2,"t":46,"cn0":46.2},{"sat":2,"t":47,"cn0":46.0},{"sat":2,"t":48,"cn0":45.9},{"sat":2,"t":49,"cn0":45.7},{"sat":2,"t":50,"cn0":45.5},{"sat":2,"t":51,"cn0":45.3},{"sat":2,"t":52,"cn0":45.6},{"sat":2,"t":53,"cn0":45.2},{"sat":2,"t":54,"cn0":45.0},{"sat":2,"t":55,"cn0":44.8},{"sat":2,"t":56,"cn0":44.6},{"sat":2,"t":57,"cn0":44.5},{"sat":2,"t":58,"cn0":44.2},{"sat":2,"t":59,"cn0":44.4},{"sat":2,"t":60,"cn0":44.8},{"sat":2,"t":60.8,"cn0":44.5},{"sat":2,"t":61.3,"cn0":42.8},{"sat":2,"t":61.7,"cn0":41.1},{"sat":2,"t":62.2,"cn0":38.5},{"sat":2,"t":62.6,"cn0":37.0},{"sat":2,"t":63.0,"cn0":38.5},{"sat":2,"t":63.5,"cn0":41.0},{"sat":2,"t":63.9,"cn0":42.5},{"sat":2,"t":64.4,"cn0":43.5},{"sat":2,"t":65.0,"cn0":44.0},{"sat":2,"t":65.7,"cn0":44.2},{"sat":2,"t":66.5,"cn0":44.3},{"sat":2,"t":67.4,"cn0":44.0},{"sat":2,"t":68.3,"cn0":44.1},{"sat":2,"t":68.5,"cn0":36.0},{"sat":2,"t":68.7,"cn0":43.8},{"sat":2,"t":69.5,"cn0":44.0},{"sat":2,"t":70.5,"cn0":43.8},{"sat":2,"t":71.8,"cn0":43.7},{"sat":2,"t":73,"cn0":44.1},{"sat":2,"t":74,"cn0":44.3},{"sat":2,"t":75,"cn0":44.2},{"sat":2,"t":76,"cn0":44.0},{"sat":2,"t":77,"cn0":43.8},{"sat":2,"t":78,"cn0":43.6},{"sat":2,"t":79,"cn0":43.8},{"sat":2,"t":80,"cn0":44.1},{"sat":2,"t":81,"cn0":44.3},{"sat":2,"t":82,"cn0":44.2},
{"sat":3,"t":42,"cn0":43.2},{"sat":3,"t":43,"cn0":43.5},{"sat":3,"t":44,"cn0":43.0},{"sat":3,"t":45,"cn0":43.8},{"sat":3,"t":46,"cn0":44.3},{"sat":3,"t":47,"cn0":43.2},{"sat":3,"t":48,"cn0":44.0},{"sat":3,"t":49,"cn0":43.6},{"sat":3,"t":50,"cn0":44.2},{"sat":3,"t":51,"cn0":44.3},{"sat":3,"t":52,"cn0":43.0},{"sat":3,"t":53,"cn0":43.5},{"sat":3,"t":54,"cn0":43.2},{"sat":3,"t":55,"cn0":43.8},{"sat":3,"t":56,"cn0":44.0},{"sat":3,"t":57,"cn0":43.6},{"sat":3,"t":58,"cn0":43.1},{"sat":3,"t":59,"cn0":43.4},{"sat":3,"t":60,"cn0":43.3},{"sat":3,"t":60.8,"cn0":42.5},{"sat":3,"t":61.5,"cn0":39.0},{"sat":3,"t":61.9,"cn0":36.2},{"sat":3,"t":62.2,"cn0":36.8},{"sat":3,"t":62.6,"cn0":38.5},{"sat":3,"t":63.0,"cn0":40.0},{"sat":3,"t":63.5,"cn0":41.5},{"sat":3,"t":64.4,"cn0":43.2},{"sat":3,"t":65.0,"cn0":43.4},{"sat":3,"t":66,"cn0":43.6},{"sat":3,"t":67.4,"cn0":43.8},{"sat":3,"t":68.3,"cn0":43.3},{"sat":3,"t":68.5,"cn0":38.0},{"sat":3,"t":68.7,"cn0":43.0},{"sat":3,"t":69.5,"cn0":43.2},{"sat":3,"t":70.5,"cn0":43.4},{"sat":3,"t":71.8,"cn0":43.3},{"sat":3,"t":73,"cn0":43.6},{"sat":3,"t":74,"cn0":43.8},{"sat":3,"t":75,"cn0":43.5},{"sat":3,"t":76,"cn0":43.2},{"sat":3,"t":77,"cn0":43.4},{"sat":3,"t":78,"cn0":43.1},{"sat":3,"t":79,"cn0":42.8},{"sat":3,"t":80,"cn0":42.9},{"sat":3,"t":81,"cn0":42.6},{"sat":3,"t":82,"cn0":42.4},
{"sat":4,"t":42,"cn0":41.3},{"sat":4,"t":42.8,"cn0":41.0},{"sat":4,"t":43.1,"cn0":35.5},{"sat":4,"t":43.4,"cn0":41.2},{"sat":4,"t":44,"cn0":41.6},{"sat":4,"t":45,"cn0":41.8},{"sat":4,"t":46,"cn0":41.9},{"sat":4,"t":47,"cn0":41.3},{"sat":4,"t":48,"cn0":41.5},{"sat":4,"t":49,"cn0":41.0},{"sat":4,"t":50,"cn0":41.2},{"sat":4,"t":51,"cn0":41.6},{"sat":4,"t":52,"cn0":41.9},{"sat":4,"t":53,"cn0":41.3},{"sat":4,"t":54,"cn0":41.5},{"sat":4,"t":55,"cn0":40.9},{"sat":4,"t":56,"cn0":41.4},{"sat":4,"t":57,"cn0":41.0},{"sat":4,"t":58,"cn0":41.5},{"sat":4,"t":59,"cn0":41.2},{"sat":4,"t":60,"cn0":41.0},{"sat":4,"t":60.8,"cn0":40.6},{"sat":4,"t":61.3,"cn0":38.5},{"sat":4,"t":61.8,"cn0":37.0},{"sat":4,"t":62.2,"cn0":35.8},{"sat":4,"t":62.6,"cn0":35.0},{"sat":4,"t":63.0,"cn0":33.7},{"sat":4,"t":63.3,"cn0":34.8},{"sat":4,"t":63.7,"cn0":37.0},{"sat":4,"t":64.2,"cn0":39.5},{"sat":4,"t":64.8,"cn0":41.0},{"sat":4,"t":65.7,"cn0":41.2},{"sat":4,"t":66.5,"cn0":41.4},{"sat":4,"t":67.4,"cn0":41.3},{"sat":4,"t":68.3,"cn0":41.0},{"sat":4,"t":68.5,"cn0":35.2},{"sat":4,"t":68.7,"cn0":40.8},{"sat":4,"t":69.5,"cn0":41.2},{"sat":4,"t":70.5,"cn0":41.4},{"sat":4,"t":71.8,"cn0":41.6},{"sat":4,"t":73,"cn0":41.2},{"sat":4,"t":74,"cn0":41.0},{"sat":4,"t":75,"cn0":40.8},{"sat":4,"t":76,"cn0":41.2},{"sat":4,"t":77,"cn0":41.4},{"sat":4,"t":78,"cn0":41.1},{"sat":4,"t":79,"cn0":41.3},{"sat":4,"t":80,"cn0":40.8},{"sat":4,"t":81,"cn0":41.0},{"sat":4,"t":82,"cn0":40.7},
{"sat":5,"t":44.9,"cn0":38.9},{"sat":5,"t":45.8,"cn0":39.9},{"sat":5,"t":46.4,"cn0":39.5},{"sat":5,"t":47.3,"cn0":38.7},{"sat":5,"t":48.0,"cn0":37.9},{"sat":5,"t":48.8,"cn0":39.4},{"sat":5,"t":49.4,"cn0":37.6},{"sat":5,"t":50.4,"cn0":36.6},{"sat":5,"t":51.3,"cn0":38.5},{"sat":5,"t":52.5,"cn0":39.8},{"sat":5,"t":53.4,"cn0":39.3},{"sat":5,"t":54.1,"cn0":37.4},{"sat":5,"t":54.8,"cn0":39.9},{"sat":5,"t":55.6,"cn0":39.0},{"sat":5,"t":56.5,"cn0":40.3},{"sat":5,"t":57.8,"cn0":39.6},{"sat":5,"t":58.6,"cn0":40.0},{"sat":5,"t":59.5,"cn0":39.5},{"sat":5,"t":60.5,"cn0":38.9},{"sat":5,"t":61.1,"cn0":37.8},{"sat":5,"t":61.6,"cn0":35.8},{"sat":5,"t":62.1,"cn0":35.3},{"sat":5,"t":62.6,"cn0":36.5},{"sat":5,"t":63.2,"cn0":37.5},{"sat":5,"t":63.9,"cn0":38.8},{"sat":5,"t":64.8,"cn0":39.8},{"sat":5,"t":65.7,"cn0":40.2},{"sat":5,"t":66.5,"cn0":40.5},{"sat":5,"t":67.4,"cn0":40.0},{"sat":5,"t":68.3,"cn0":39.9},{"sat":5,"t":68.6,"cn0":37.0},{"sat":5,"t":68.8,"cn0":39.8},{"sat":5,"t":69.5,"cn0":40.1},{"sat":5,"t":70.5,"cn0":40.4},{"sat":5,"t":71.8,"cn0":39.9},{"sat":5,"t":73,"cn0":40.2},{"sat":5,"t":74,"cn0":39.8},{"sat":5,"t":75,"cn0":39.9},{"sat":5,"t":76,"cn0":40.3},{"sat":5,"t":77,"cn0":40.0},{"sat":5,"t":78,"cn0":40.4},{"sat":5,"t":79,"cn0":40.1},{"sat":5,"t":80,"cn0":39.6},{"sat":5,"t":81,"cn0":39.9},{"sat":5,"t":82,"cn0":39.6}
],
"sl5":[
{"sat":1,"t":42,"cn0":52.9},{"sat":1,"t":42.5,"cn0":53.0},{"sat":1,"t":43,"cn0":52.9},{"sat":1,"t":44,"cn0":52.9},{"sat":1,"t":45,"cn0":52.9},{"sat":1,"t":46,"cn0":52.9},{"sat":1,"t":47,"cn0":53.0},{"sat":1,"t":48,"cn0":52.9},{"sat":1,"t":49,"cn0":52.9},{"sat":1,"t":50,"cn0":52.9},{"sat":1,"t":51,"cn0":52.9},{"sat":1,"t":52,"cn0":53.0},{"sat":1,"t":53,"cn0":52.9},{"sat":1,"t":54,"cn0":52.9},{"sat":1,"t":55,"cn0":52.9},{"sat":1,"t":56,"cn0":53.0},{"sat":1,"t":57,"cn0":52.9},{"sat":1,"t":58,"cn0":52.9},{"sat":1,"t":59,"cn0":52.9},{"sat":1,"t":60,"cn0":52.9},{"sat":1,"t":60.8,"cn0":52.6},{"sat":1,"t":61.3,"cn0":51.5},{"sat":1,"t":61.7,"cn0":50.0},{"sat":1,"t":62.0,"cn0":48.8},{"sat":1,"t":62.4,"cn0":48.0},{"sat":1,"t":62.8,"cn0":47.3},{"sat":1,"t":63.2,"cn0":48.5},{"sat":1,"t":63.6,"cn0":51.0},{"sat":1,"t":64.0,"cn0":52.5},{"sat":1,"t":64.4,"cn0":52.6},{"sat":1,"t":64.8,"cn0":52.0},{"sat":1,"t":64.9,"cn0":49.5},{"sat":1,"t":65.0,"cn0":52.8},{"sat":1,"t":65.7,"cn0":53.1},{"sat":1,"t":66.5,"cn0":53.0},{"sat":1,"t":67.4,"cn0":52.9},{"sat":1,"t":68.0,"cn0":51.0},{"sat":1,"t":68.2,"cn0":52.8},{"sat":1,"t":68.5,"cn0":45.0},{"sat":1,"t":68.7,"cn0":52.6},{"sat":1,"t":69.5,"cn0":52.5},{"sat":1,"t":70.5,"cn0":52.6},{"sat":1,"t":71.8,"cn0":52.8},{"sat":1,"t":73,"cn0":52.6},{"sat":1,"t":74,"cn0":52.7},{"sat":1,"t":75,"cn0":52.8},{"sat":1,"t":76,"cn0":52.8},{"sat":1,"t":77,"cn0":52.9},{"sat":1,"t":78,"cn0":52.7},{"sat":1,"t":79,"cn0":52.9},{"sat":1,"t":80,"cn0":52.9},{"sat":1,"t":81,"cn0":53.0},{"sat":1,"t":82,"cn0":53.0},
{"sat":2,"t":42,"cn0":52.0},{"sat":2,"t":42.6,"cn0":52.1},{"sat":2,"t":42.9,"cn0":41.1},{"sat":2,"t":43.1,"cn0":48.5},{"sat":2,"t":43.4,"cn0":51.8},{"sat":2,"t":44,"cn0":52.2},{"sat":2,"t":45,"cn0":51.9},{"sat":2,"t":46,"cn0":51.7},{"sat":2,"t":47,"cn0":51.4},{"sat":2,"t":48,"cn0":50.9},{"sat":2,"t":49,"cn0":50.7},{"sat":2,"t":50,"cn0":50.2},{"sat":2,"t":51,"cn0":50.5},{"sat":2,"t":52,"cn0":50.9},{"sat":2,"t":53,"cn0":50.8},{"sat":2,"t":54,"cn0":50.6},{"sat":2,"t":55,"cn0":50.9},{"sat":2,"t":56,"cn0":50.6},{"sat":2,"t":57,"cn0":51.0},{"sat":2,"t":58,"cn0":51.3},{"sat":2,"t":59,"cn0":50.9},{"sat":2,"t":60,"cn0":50.5},{"sat":2,"t":60.8,"cn0":49.8},{"sat":2,"t":61.3,"cn0":48.5},{"sat":2,"t":61.9,"cn0":47.5},{"sat":2,"t":62.6,"cn0":46.3},{"sat":2,"t":63.0,"cn0":45.8},{"sat":2,"t":63.5,"cn0":47.0},{"sat":2,"t":63.9,"cn0":49.5},{"sat":2,"t":64.4,"cn0":49.8},{"sat":2,"t":65.0,"cn0":50.2},{"sat":2,"t":65.7,"cn0":50.7},{"sat":2,"t":66.5,"cn0":51.0},{"sat":2,"t":67.4,"cn0":51.3},{"sat":2,"t":68.3,"cn0":50.8},{"sat":2,"t":68.5,"cn0":42.0},{"sat":2,"t":68.7,"cn0":50.6},{"sat":2,"t":69.5,"cn0":50.1},{"sat":2,"t":70.5,"cn0":49.4},{"sat":2,"t":71.8,"cn0":49.0},{"sat":2,"t":73,"cn0":48.9},{"sat":2,"t":74,"cn0":48.8},{"sat":2,"t":75,"cn0":48.8},{"sat":2,"t":76,"cn0":49.3},{"sat":2,"t":77,"cn0":49.8},{"sat":2,"t":78,"cn0":49.6},{"sat":2,"t":79,"cn0":49.2},{"sat":2,"t":80,"cn0":49.0},{"sat":2,"t":81,"cn0":48.8},{"sat":2,"t":82,"cn0":48.7},
{"sat":3,"t":42,"cn0":47.2},{"sat":3,"t":43,"cn0":47.8},{"sat":3,"t":44,"cn0":47.5},{"sat":3,"t":45,"cn0":47.0},{"sat":3,"t":46,"cn0":47.4},{"sat":3,"t":47,"cn0":47.9},{"sat":3,"t":48,"cn0":48.0},{"sat":3,"t":49,"cn0":48.3},{"sat":3,"t":50,"cn0":48.0},{"sat":3,"t":51,"cn0":47.7},{"sat":3,"t":52,"cn0":47.9},{"sat":3,"t":53,"cn0":48.2},{"sat":3,"t":54,"cn0":47.9},{"sat":3,"t":55,"cn0":48.0},{"sat":3,"t":56,"cn0":48.2},{"sat":3,"t":57,"cn0":47.9},{"sat":3,"t":58,"cn0":47.6},{"sat":3,"t":59,"cn0":47.4},{"sat":3,"t":60,"cn0":47.0},{"sat":3,"t":60.8,"cn0":46.2},{"sat":3,"t":61.3,"cn0":45.3},{"sat":3,"t":61.7,"cn0":44.3},{"sat":3,"t":62.2,"cn0":43.6},{"sat":3,"t":62.6,"cn0":42.8},{"sat":3,"t":63.0,"cn0":41.5},{"sat":3,"t":63.3,"cn0":40.3},{"sat":3,"t":63.6,"cn0":42.5},{"sat":3,"t":64.0,"cn0":45.5},{"sat":3,"t":64.4,"cn0":47.5},{"sat":3,"t":64.8,"cn0":49.0},{"sat":3,"t":65.2,"cn0":48.0},{"sat":3,"t":65.5,"cn0":49.2},{"sat":3,"t":66.5,"cn0":49.3},{"sat":3,"t":67.4,"cn0":49.5},{"sat":3,"t":68.3,"cn0":50.2},{"sat":3,"t":68.5,"cn0":41.0},{"sat":3,"t":68.7,"cn0":50.0},{"sat":3,"t":69.6,"cn0":50.6},{"sat":3,"t":70.5,"cn0":50.3},{"sat":3,"t":71.8,"cn0":49.6},{"sat":3,"t":72.7,"cn0":49.4},{"sat":3,"t":74,"cn0":48.8},{"sat":3,"t":75,"cn0":48.5},{"sat":3,"t":76,"cn0":48.7},{"sat":3,"t":77,"cn0":48.9},{"sat":3,"t":78,"cn0":49.1},{"sat":3,"t":79,"cn0":48.8},{"sat":3,"t":80,"cn0":48.9},{"sat":3,"t":81,"cn0":49.1},{"sat":3,"t":82,"cn0":49.0},
{"sat":4,"t":42,"cn0":46.9},{"sat":4,"t":42.6,"cn0":44.0},{"sat":4,"t":42.9,"cn0":46.3},{"sat":4,"t":43.5,"cn0":47.4},{"sat":4,"t":44,"cn0":47.5},{"sat":4,"t":45,"cn0":47.1},{"sat":4,"t":46,"cn0":47.0},{"sat":4,"t":47,"cn0":47.3},{"sat":4,"t":48,"cn0":47.6},{"sat":4,"t":49,"cn0":47.7},{"sat":4,"t":50,"cn0":47.8},{"sat":4,"t":51,"cn0":47.5},{"sat":4,"t":52,"cn0":47.5},{"sat":4,"t":53,"cn0":47.6},{"sat":4,"t":54,"cn0":47.4},{"sat":4,"t":55,"cn0":47.5},{"sat":4,"t":56,"cn0":47.6},{"sat":4,"t":57,"cn0":47.3},{"sat":4,"t":58,"cn0":47.1},{"sat":4,"t":59,"cn0":47.0},{"sat":4,"t":60,"cn0":46.5},{"sat":4,"t":60.8,"cn0":45.5},{"sat":4,"t":61.3,"cn0":44.8},{"sat":4,"t":61.9,"cn0":43.8},{"sat":4,"t":62.6,"cn0":43.4},{"sat":4,"t":63.2,"cn0":43.5},{"sat":4,"t":63.7,"cn0":45.2},{"sat":4,"t":64.4,"cn0":46.0},{"sat":4,"t":65.0,"cn0":46.5},{"sat":4,"t":65.7,"cn0":46.7},{"sat":4,"t":66.5,"cn0":46.8},{"sat":4,"t":67.4,"cn0":46.7},{"sat":4,"t":68.3,"cn0":46.5},{"sat":4,"t":68.5,"cn0":39.8},{"sat":4,"t":68.7,"cn0":46.3},{"sat":4,"t":69.6,"cn0":46.1},{"sat":4,"t":70.5,"cn0":46.4},{"sat":4,"t":71.8,"cn0":46.3},{"sat":4,"t":73,"cn0":46.4},{"sat":4,"t":74,"cn0":46.5},{"sat":4,"t":75,"cn0":46.4},{"sat":4,"t":76,"cn0":46.3},{"sat":4,"t":77,"cn0":46.4},{"sat":4,"t":78,"cn0":46.3},{"sat":4,"t":79,"cn0":46.2},{"sat":4,"t":80,"cn0":46.3},{"sat":4,"t":81,"cn0":46.2},{"sat":4,"t":82,"cn0":46.2}
]
},
"concat":[
{"width":303,"height":250,"title":"GPS L1 C/A","data":{"name":"fl1"},"layer":[
{"mark":{"type":"line","strokeWidth":2.3},"encoding":{"x":{"field":"t","type":"quantitative","scale":{"domain":[42,82],"nice":false,"zero":false},"axis":{"values":[49,62,75],"labels":false,"title":null}},"y":{"field":"cn0","type":"quantitative","scale":{"domain":[20,60],"nice":false,"zero":false},"axis":{"values":[30,40,50],"labels":true,"title":null}},"detail":{"field":"sat","type":"nominal"}}},
{"data":{"values":[{"t":62}]},"mark":"rule","encoding":{"x":{"field":"t","type":"quantitative","title":null}}}
]},
{"width":303,"height":250,"title":"GPS L2C","data":{"name":"fl2"},"layer":[
{"mark":{"type":"line","strokeWidth":1.9},"encoding":{"x":{"field":"t","type":"quantitative","scale":{"domain":[42,82],"nice":false,"zero":false},"axis":{"values":[49,62,75],"labels":false,"title":null}},"y":{"field":"cn0","type":"quantitative","scale":{"domain":[20,60],"nice":false,"zero":false},"axis":{"values":[30,40,50],"labels":false,"title":null}},"detail":{"field":"sat","type":"nominal"}}},
{"data":{"values":[{"t":62}]},"mark":"rule","encoding":{"x":{"field":"t","type":"quantitative","title":null}}}
]},
{"width":303,"height":250,"title":"GPS L5","data":{"name":"fl5"},"resolve":{"axis":{"y":"independent"}},"layer":[
{"mark":{"type":"line","strokeWidth":1.5},"encoding":{"x":{"field":"t","type":"quantitative","scale":{"domain":[42,82],"nice":false,"zero":false},"axis":{"values":[49,62,75],"labels":false,"title":null}},"y":{"field":"cn0","type":"quantitative","scale":{"domain":[20,60],"nice":false,"zero":false},"axis":{"values":[30,40,50],"labels":false,"title":null,"orient":"left"}},"detail":{"field":"sat","type":"nominal"}}},
{"data":{"values":[{"t":62}]},"mark":"rule","encoding":{"x":{"field":"t","type":"quantitative","title":null},"y":{"datum":20,"axis":{"orient":"right","title":"FRTZ","labels":false,"ticks":false,"grid":false,"domain":false,"titleAngle":270,"titleBaseline":"middle","titlePadding":30}},"y2":{"datum":60}}}
]},
{"width":303,"height":250,"layer":[
{"data":{"values":[{"label":"UNRELIABLE DATA"}]},"mark":{"type":"text","fontSize":24,"lineBreak":" ","lineHeight":25,"align":"center","baseline":"middle","color":"#000"},"encoding":{"x":{"datum":62,"type":"quantitative","scale":{"domain":[42,82],"nice":false,"zero":false},"axis":{"values":[49,62,75],"labels":false,"title":null}},"y":{"datum":40,"type":"quantitative","scale":{"domain":[20,60],"nice":false,"zero":false},"axis":{"values":[30,40,50],"labels":true,"title":"C/No (dB-Hz)"}},"text":{"field":"label"}}},
{"data":{"values":[{"t":62}]},"mark":"rule","encoding":{"x":{"field":"t","type":"quantitative","title":null}}}
]},
{"width":303,"height":250,"data":{"name":"il2"},"layer":[
{"mark":{"type":"line","strokeWidth":1.9},"encoding":{"x":{"field":"t","type":"quantitative","scale":{"domain":[42,82],"nice":false,"zero":false},"axis":{"values":[49,62,75],"labels":false,"title":null}},"y":{"field":"cn0","type":"quantitative","scale":{"domain":[20,60],"nice":false,"zero":false},"axis":{"values":[30,40,50],"labels":false,"title":null}},"detail":{"field":"sat","type":"nominal"}}},
{"data":{"values":[{"t":62}]},"mark":"rule","encoding":{"x":{"field":"t","type":"quantitative","title":null}}}
]},
{"width":303,"height":250,"data":{"name":"il5"},"resolve":{"axis":{"y":"independent"}},"layer":[
{"mark":{"type":"line","strokeWidth":1.5},"encoding":{"x":{"field":"t","type":"quantitative","scale":{"domain":[42,82],"nice":false,"zero":false},"axis":{"values":[49,62,75],"labels":false,"title":null}},"y":{"field":"cn0","type":"quantitative","scale":{"domain":[20,60],"nice":false,"zero":false},"axis":{"values":[30,40,50],"labels":false,"title":null,"orient":"left"}},"detail":{"field":"sat","type":"nominal"}}},
{"data":{"values":[{"t":62}]},"mark":"rule","encoding":{"x":{"field":"t","type":"quantitative","title":null},"y":{"datum":20,"axis":{"orient":"right","title":"INCO","labels":false,"ticks":false,"grid":false,"domain":false,"titleAngle":270,"titleBaseline":"middle","titlePadding":30}},"y2":{"datum":60}}}
]},
{"width":303,"height":250,"data":{"name":"sl1"},"layer":[
{"mark":{"type":"line","strokeWidth":2.3},"encoding":{"x":{"field":"t","type":"quantitative","scale":{"domain":[42,82],"nice":false,"zero":false},"axis":{"values":[49,62,75],"labels":true,"title":null,"labelExpr":"(datum.value < 60 ? '11:' : '12:') + (datum.value % 60 < 10 ? '0' : '') + (datum.value % 60)"}},"y":{"field":"cn0","type":"quantitative","scale":{"domain":[20,60],"nice":false,"zero":false},"axis":{"values":[30,40,50],"labels":true,"title":null}},"detail":{"field":"sat","type":"nominal"}}},
{"data":{"values":[{"t":62}]},"mark":"rule","encoding":{"x":{"field":"t","type":"quantitative","title":null}}}
]},
{"width":303,"height":250,"data":{"name":"sl2"},"layer":[
{"mark":{"type":"line","strokeWidth":1.9},"encoding":{"x":{"field":"t","type":"quantitative","scale":{"domain":[42,82],"nice":false,"zero":false},"axis":{"values":[49,62,75],"labels":true,"title":"Time (UT)","labelExpr":"(datum.value < 60 ? '11:' : '12:') + (datum.value % 60 < 10 ? '0' : '') + (datum.value % 60)"}},"y":{"field":"cn0","type":"quantitative","scale":{"domain":[20,60],"nice":false,"zero":false},"axis":{"values":[30,40,50],"labels":false,"title":null}},"detail":{"field":"sat","type":"nominal"}}},
{"data":{"values":[{"t":62}]},"mark":"rule","encoding":{"x":{"field":"t","type":"quantitative","title":"Time (UT)"}}}
]},
{"width":303,"height":250,"data":{"name":"sl5"},"resolve":{"axis":{"y":"independent"}},"layer":[
{"mark":{"type":"line","strokeWidth":1.5},"encoding":{"x":{"field":"t","type":"quantitative","scale":{"domain":[42,82],"nice":false,"zero":false},"axis":{"values":[49,62,75],"labels":true,"title":null,"labelExpr":"(datum.value < 60 ? '11:' : '12:') + (datum.value % 60 < 10 ? '0' : '') + (datum.value % 60)"}},"y":{"field":"cn0","type":"quantitative","scale":{"domain":[20,60],"nice":false,"zero":false},"axis":{"values":[30,40,50],"labels":false,"title":null,"orient":"left"}},"detail":{"field":"sat","type":"nominal"}}},
{"data":{"values":[{"t":62}]},"mark":"rule","encoding":{"x":{"field":"t","type":"quantitative","title":null},"y":{"datum":20,"axis":{"orient":"right","title":"SJCU","labels":false,"ticks":false,"grid":false,"domain":false,"titleAngle":270,"titleBaseline":"middle","titlePadding":30}},"y2":{"datum":60}}}
]}
]
}
